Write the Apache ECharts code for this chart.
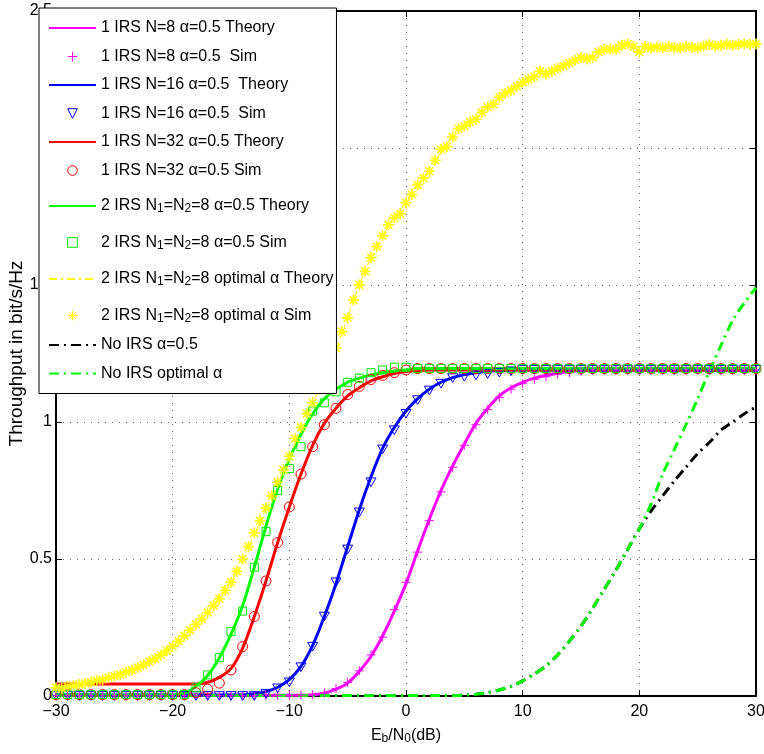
<!DOCTYPE html>
<html>
<head>
<meta charset="utf-8">
<title>Throughput vs Eb/N0</title>
<script src="https://cdn.jsdelivr.net/npm/echarts@6/dist/echarts.min.js"></script>
<style>
  html, body { margin: 0; padding: 0; background: #fff; }
  #chart { width: 764px; height: 754px; }
</style>
</head>
<body>
<div id="chart"></div>
<script>
// Eb/N0 in dB, 1 dB steps
const snr = [-30,-29,-28,-27,-26,-25,-24,-23,-22,-21,-20,-19,-18,-17,-16,-15,-14,-13,-12,-11,
  -10,-9,-8,-7,-6,-5,-4,-3,-2,-1,0,1,2,3,4,5,6,7,8,9,10,11,12,13,14,15,16,17,18,19,
  20,21,22,23,24,25,26,27,28,29,30];

const n8Theory = [0.003,0.003,0.003,0.003,0.003,0.003,0.003,0.003,0.003,0.003,
  0.003,0.003,0.003,0.003,0.003,0.003,0.003,0.003,0.003,0.003,
  0.003,0.003,0.005,0.01,0.025,0.047,0.09,0.145,0.22,0.31,
  0.41,0.53,0.645,0.75,0.84,0.92,0.995,1.05,1.095,1.125,
  1.145,1.16,1.17,1.178,1.184,1.188,1.19,1.19,1.19,1.19,
  1.19,1.19,1.19,1.19,1.19,1.19,1.19,1.19,1.19,1.19,1.19];
const n8Sim = [0.002,0.002,0.002,0.002,0.002,0.002,0.002,0.002,0.002,0.002,
  0.002,0.002,0.002,0.002,0.002,0.002,0.002,0.002,0.002,0.002,
  0.002,0.003,0.005,0.012,0.027,0.05,0.092,0.15,0.215,0.315,
  0.415,0.525,0.64,0.745,0.835,0.915,0.99,1.045,1.09,1.12,
  1.14,1.155,1.165,1.175,1.18,1.185,1.19,1.19,1.19,1.19,
  1.19,1.19,1.19,1.19,1.19,1.19,1.19,1.19,1.19,1.19,1.19];

const n16Theory = [0.004,0.004,0.004,0.004,0.004,0.004,0.004,0.004,0.004,0.004,
  0.004,0.004,0.004,0.004,0.004,0.004,0.004,0.008,0.016,0.032,
  0.06,0.108,0.185,0.29,0.41,0.545,0.68,0.8,0.905,0.98,
  1.04,1.085,1.12,1.145,1.162,1.173,1.18,1.185,1.188,1.19,
  1.19,1.19,1.19,1.19,1.19,1.19,1.19,1.19,1.19,1.19,
  1.19,1.19,1.19,1.19,1.19,1.19,1.19,1.19,1.19,1.19,1.19];
const n16Sim = [0,0,0,0,0,0,0,0,0,0,
  0,0,0,0,0,0,0,0,0.008,0.028,
  0.05,0.105,0.18,0.29,0.415,0.535,0.67,0.78,0.9,0.97,
  1.03,1.08,1.115,1.14,1.16,1.165,1.17,1.175,1.18,1.185,
  1.19,1.19,1.19,1.19,1.19,1.19,1.19,1.19,1.19,1.19,
  1.19,1.19,1.19,1.19,1.19,1.19,1.19,1.19,1.19,1.19,1.19];

const n32Theory = [0.044,0.044,0.044,0.044,0.044,0.044,0.044,0.044,0.044,0.044,
  0.044,0.044,0.044,0.05,0.068,0.1,0.175,0.29,0.42,0.56,
  0.69,0.81,0.915,0.995,1.05,1.095,1.125,1.15,1.165,1.177,
  1.184,1.188,1.19,1.19,1.19,1.19,1.19,1.19,1.19,1.19,
  1.19,1.19,1.19,1.19,1.19,1.19,1.19,1.19,1.19,1.19,
  1.19,1.19,1.19,1.19,1.19,1.19,1.19,1.19,1.19,1.19,1.19];
const n32Sim = [0.005,0.005,0.005,0.005,0.005,0.005,0.005,0.005,0.005,0.005,
  0.005,0.005,0.012,0.025,0.047,0.095,0.18,0.29,0.42,0.56,
  0.69,0.81,0.91,0.99,1.05,1.1,1.13,1.155,1.17,1.18,
  1.19,1.195,1.195,1.195,1.195,1.195,1.195,1.195,1.195,1.195,
  1.195,1.195,1.195,1.195,1.195,1.195,1.195,1.195,1.195,1.195,
  1.195,1.195,1.195,1.195,1.195,1.195,1.195,1.195,1.195,1.195,1.195];

const twoIrsTheory = [0.004,0.004,0.004,0.004,0.004,0.004,0.004,0.004,0.004,0.004,
  0.004,0.01,0.035,0.075,0.14,0.225,0.33,0.47,0.62,0.755,
  0.865,0.955,1.03,1.085,1.12,1.145,1.16,1.172,1.18,1.186,
  1.19,1.195,1.195,1.195,1.195,1.195,1.195,1.195,1.195,1.195,
  1.195,1.195,1.195,1.195,1.195,1.195,1.195,1.195,1.195,1.195,
  1.195,1.195,1.195,1.195,1.195,1.195,1.195,1.195,1.195,1.195,1.195];
const twoIrsSim = [0.005,0.005,0.005,0.005,0.005,0.005,0.005,0.005,0.005,0.005,
  0.005,0.005,0.03,0.077,0.14,0.235,0.31,0.47,0.6,0.75,
  0.83,0.91,1.04,1.07,1.11,1.145,1.16,1.18,1.19,1.2,
  1.2,1.195,1.195,1.195,1.195,1.195,1.195,1.195,1.195,1.195,
  1.195,1.195,1.195,1.195,1.195,1.195,1.195,1.195,1.195,1.195,
  1.195,1.195,1.195,1.195,1.195,1.195,1.195,1.195,1.195,1.195,1.195];

const optTheory = [0.03,0.035,0.042,0.05,0.06,0.072,0.086,0.103,0.125,0.15,
  0.18,0.22,0.26,0.305,0.355,0.415,0.5,0.59,0.685,0.775,
  0.87,0.975,1.07,1.165,1.265,1.38,1.5,1.6,1.68,1.745,
  1.8,1.86,1.915,1.985,2.04,2.08,2.11,2.15,2.185,2.21,
  2.24,2.26,2.275,2.29,2.31,2.325,2.335,2.355,2.36,2.375,
  2.36,2.365,2.365,2.368,2.37,2.37,2.372,2.375,2.378,2.378,2.38];
// simulated points, 0.5 dB steps: [Eb/N0, throughput]
const optSim = [[-30,0.03],[-29.5,0.028],[-29,0.035],[-28.5,0.038],[-28,0.042],[-27.5,0.046],[-27,0.05],[-26.5,0.056],[-26,0.06],[-25.5,0.067],
  [-25,0.073],[-24.5,0.078],[-24,0.087],[-23.5,0.094],[-23,0.104],[-22.5,0.113],[-22,0.126],[-21.5,0.136],[-21,0.15],[-20.5,0.165],
  [-20,0.182],[-19.5,0.2],[-19,0.22],[-18.5,0.24],[-18,0.262],[-17.5,0.282],[-17,0.305],[-16.5,0.33],[-16,0.355],[-15.5,0.385],
  [-15,0.415],[-14.5,0.455],[-14,0.5],[-13.5,0.545],[-13,0.595],[-12.5,0.64],[-12,0.686],[-11.5,0.73],[-11,0.78],[-10.5,0.825],
  [-10,0.875],[-9.5,0.94],[-9,0.98],[-8.5,1.03],[-8,1.07],[-7.5,1.12],[-7,1.17],[-6.5,1.21],[-6,1.27],[-5.5,1.33],
  [-5,1.38],[-4.5,1.445],[-4,1.5],[-3.5,1.55],[-3,1.6],[-2.5,1.64],[-2,1.68],[-1.5,1.72],[-1,1.745],[-0.5,1.76],
  [0,1.8],[0.5,1.83],[1,1.865],[1.5,1.89],[2,1.915],[2.5,1.955],[3,1.995],[3.5,2.005],[4,2.04],[4.5,2.07],
  [5,2.08],[5.5,2.095],[6,2.105],[6.5,2.13],[7,2.15],[7.5,2.16],[8,2.185],[8.5,2.2],[9,2.21],[9.5,2.225],
  [10,2.24],[10.5,2.25],[11,2.26],[11.5,2.28],[12,2.27],[12.5,2.28],[13,2.29],[13.5,2.3],[14,2.31],[14.5,2.32],
  [15,2.33],[15.5,2.325],[16,2.33],[16.5,2.35],[17,2.36],[17.5,2.36],[18,2.36],[18.5,2.375],[19,2.38],[19.5,2.37],
  [20,2.35],[20.5,2.37],[21,2.365],[21.5,2.368],[22,2.365],[22.5,2.37],[23,2.366],[23.5,2.365],[24,2.37],[24.5,2.368],
  [25,2.365],[25.5,2.372],[26,2.378],[26.5,2.372],[27,2.375],[27.5,2.378],[28,2.375],[28.5,2.378],[29,2.38],[29.5,2.378],
  [30,2.38]];

const noIrsHalf = [0.002,0.002,0.002,0.002,0.002,0.002,0.002,0.002,0.002,0.002,
  0.002,0.002,0.002,0.002,0.002,0.002,0.002,0.002,0.002,0.002,
  0.002,0.002,0.002,0.002,0.002,0.002,0.002,0.002,0.002,0.002,
  0.002,0.002,0.002,0.002,0.002,0.003,0.006,0.012,0.022,0.035,
  0.055,0.08,0.11,0.15,0.2,0.255,0.32,0.39,0.46,0.535,
  0.61,0.675,0.73,0.785,0.835,0.885,0.925,0.97,1.0,1.03,1.055];
const noIrsOpt = [0.002,0.002,0.002,0.002,0.002,0.002,0.002,0.002,0.002,0.002,
  0.002,0.002,0.002,0.002,0.002,0.002,0.002,0.002,0.002,0.002,
  0.002,0.002,0.002,0.002,0.002,0.002,0.002,0.002,0.002,0.002,
  0.002,0.002,0.002,0.002,0.002,0.003,0.006,0.012,0.022,0.035,
  0.055,0.08,0.11,0.15,0.2,0.255,0.32,0.39,0.46,0.535,
  0.61,0.7,0.81,0.9,0.99,1.085,1.185,1.28,1.37,1.435,1.49];

const xTicks = [-30, 30, 10];   // min, max, step
const yTicks = [0, 2.5, 0.5];

const FONT = "'Liberation Sans', Arial, sans-serif";

// marker shapes
const PLUS = 'path://M5,0L5,10M0,5L10,5';
const STAR = 'path://M5,0L5,10M0,5L10,5M1.5,1.5L8.5,8.5M1.5,8.5L8.5,1.5';
const TRI_DOWN = 'path://M0,0L10,0L5,8.66Z';

function pts(ys) {
  return snr.map((x, i) => [x, ys[i]]);
}

function theory(name, color, ys, width, dash) {
  return {
    name: name, type: 'line', data: pts(ys), symbol: 'none',
    smooth: 0.3,
    lineStyle: { color: color, width: width, type: dash || 'solid' },
    itemStyle: { color: color },
    emphasis: { disabled: true }
  };
}

function sim(name, color, data, symbol, size, stroke) {
  return {
    name: name, type: 'line', data: data, symbol: symbol, symbolSize: size,
    symbolKeepAspect: true, showSymbol: true,
    lineStyle: { width: 0, opacity: 0, color: color },
    itemStyle: { color: 'rgba(0,0,0,0)', borderColor: color, borderWidth: stroke || 1 },
    emphasis: { disabled: true }
  };
}

const series = [
  theory('1 IRS N=8 α=0.5 Theory', '#ff00ff', n8Theory, 3),
  sim('1 IRS N=8 α=0.5  Sim', '#ff00ff', pts(n8Sim), PLUS, 9),
  theory('1 IRS N=16 α=0.5  Theory', '#0000ff', n16Theory, 3),
  sim('1 IRS N=16 α=0.5  Sim', '#0000ff', pts(n16Sim), TRI_DOWN, 10),
  theory('1 IRS N=32 α=0.5 Theory', '#ff0000', n32Theory, 3),
  sim('1 IRS N=32 α=0.5 Sim', '#ff0000', pts(n32Sim), 'circle', 10),
  theory('2 IRS N1=N2=8 α=0.5 Theory', '#00ff00', twoIrsTheory, 3),
  sim('2 IRS N1=N2=8 α=0.5 Sim', '#00ee00', pts(twoIrsSim), 'rect', 8),
  theory('2 IRS N1=N2=8 optimal α Theory', '#ffff00', optTheory, 1, [8, 4, 2, 4]),
  sim('2 IRS N1=N2=8 optimal α Sim', '#ffff00', optSim, STAR, 11, 1.6),
  theory('No IRS α=0.5', '#000000', noIrsHalf, 3, [10, 5, 2, 5]),
  theory('No IRS optimal α', '#00ff00', noIrsOpt, 3, [10, 5, 2, 5])
];

const subRich = {
  m: { fontSize: 16, lineHeight: 18, verticalAlign: 'middle', fontFamily: FONT, color: '#000' },
  s: { fontSize: 12, lineHeight: 12, padding: [12, 0, 0, 0], verticalAlign: 'bottom', fontFamily: FONT, color: '#000' }
};

const gridLine = { show: true, lineStyle: { color: '#666', type: [1, 6], width: 1 } };
const boxLine = { show: true, onZero: false, lineStyle: { color: '#000', width: 2 } };
const tickIn = { show: true, inside: true, length: 6, lineStyle: { color: '#000' } };

const option = {
  animation: false,
  backgroundColor: '#fff',
  textStyle: { fontFamily: FONT },
  grid: { left: 56, right: 8, top: 11, bottom: 58, outerBoundsMode: 'none' },
  legend: {
    orient: 'vertical', left: 39, top: 8,
    padding: [12, 3, 12, 9],
    itemWidth: 47, itemHeight: 12, itemGap: 12.5,
    backgroundColor: '#fff', borderColor: '#000', borderWidth: 1,
    selectedMode: false,
    itemStyle: { borderWidth: 1 },
    // theory lines: show only the line sample, no marker
    data: series.map(s => s.symbol === 'none'
      ? { name: s.name, itemStyle: { opacity: 0 } }
      : s.name),
    formatter: name => '{m|' + name.replace(/N([12])=/g, 'N}{s|$1}{m|=') + '}',
    textStyle: { color: '#000', fontFamily: FONT, rich: subRich }
  },
  xAxis: [{
    type: 'value', min: xTicks[0], max: xTicks[1], interval: xTicks[2],
    name: '{m|E}{s|b}{m|/N}{s|0}{m|(dB)}', nameLocation: 'middle', nameGap: 31,
    nameMoveOverlap: false,
    nameTextStyle: { rich: subRich },
    axisLine: boxLine, axisTick: tickIn, splitLine: gridLine,
    axisLabel: {
      color: '#000', fontSize: 16, margin: 8, fontFamily: FONT,
      formatter: v => v < 0 ? '\u2212' + Math.abs(v) : String(v)
    }
  }, {
    type: 'value', position: 'top', min: xTicks[0], max: xTicks[1], interval: xTicks[2],
    axisLine: boxLine, axisTick: tickIn, splitLine: { show: false }, axisLabel: { show: false }
  }],
  yAxis: [{
    type: 'value', min: yTicks[0], max: yTicks[1], interval: yTicks[2],
    name: 'Throughput in bit/s/Hz', nameLocation: 'middle', nameGap: 30,
    nameMoveOverlap: false,
    nameTextStyle: { fontSize: 19, color: '#000', fontFamily: FONT },
    axisLine: boxLine, axisTick: tickIn, splitLine: gridLine,
    axisLabel: { color: '#000', fontSize: 16, margin: 4, fontFamily: FONT }
  }, {
    type: 'value', position: 'right', min: yTicks[0], max: yTicks[1], interval: yTicks[2],
    axisLine: boxLine, axisTick: tickIn, splitLine: { show: false }, axisLabel: { show: false }
  }],
  series: series
};

const chart = echarts.init(document.getElementById('chart'));
chart.setOption(option);
</script>
</body>
</html>
